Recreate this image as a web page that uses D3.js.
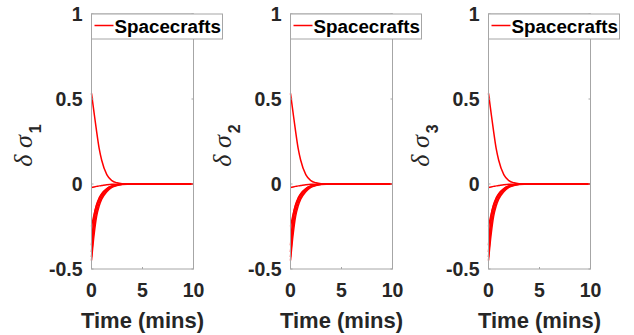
<!DOCTYPE html>
<html>
<head>
<meta charset="utf-8">
<script src="https://cdn.jsdelivr.net/npm/d3@7"></script>
<style>
  body { margin: 0; background: #fff; }
  svg { display: block; }
  text { font-family: Arial, "Liberation Sans", sans-serif; font-weight: bold; fill: #262626; }
</style>
</head>
<body>
<div id="chart"></div>
<script>
(function () {

  // Sample times (mins)
  const times = [0, 0.25, 0.5, 0.75, 1, 1.5, 2, 2.5, 3, 4, 5, 10]

  // Error trajectories, one row per spacecraft (same for every component)
  const sigma1 = [
    [0.533, 0.42, 0.31, 0.21, 0.14, 0.055, 0.02, 0.007, 0.002, 0, 0, 0],
    [-0.02, -0.017, -0.014, -0.011, -0.009, -0.005, -0.002, -0.001, 0, 0, 0, 0],
    [-0.45, -0.30, -0.19, -0.13, -0.09, -0.045, -0.02, -0.009, -0.003, 0, 0, 0],
    [-0.43, -0.26, -0.165, -0.112, -0.078, -0.038, -0.017, -0.007, -0.002, 0, 0, 0],
    [-0.40, -0.22, -0.14, -0.095, -0.066, -0.032, -0.014, -0.006, -0.002, 0, 0, 0],
    [-0.36, -0.19, -0.12, -0.082, -0.057, -0.027, -0.012, -0.005, -0.002, 0, 0, 0],
    [-0.25, -0.18, -0.125, -0.088, -0.06, -0.028, -0.012, -0.005, -0.002, 0, 0, 0]
  ]
  const sigma2 = sigma1
  const sigma3 = sigma1

  const panels = [
    { sub: "1", rows: sigma1 },
    { sub: "2", rows: sigma2 },
    { sub: "3", rows: sigma3 }
  ]
  const xTicks = [0, 5, 10]
  const yTicks = [-0.5, 0, 0.5, 1]
  const legendLabel = "Spacecrafts"

  const W = 634, H = 335
  const plotLefts = [91.5, 290.5, 488.5]
  const plotW = 102, plotTop = 14, plotH = 255

  const svg = d3.select("#chart").append("svg")
    .attr("width", W)
    .attr("height", H)

  const x = d3.scaleLinear().domain([0, 10]).range([0, plotW])
  const y = d3.scaleLinear().domain([-0.5, 1]).range([plotH, 0])

  const line = d3.line()
    .x((d, i) => x(times[i]))
    .y(d => y(d))
    .curve(d3.curveMonotoneX)

  panels.forEach((p, k) => {
    const g = svg.append("g")
      .attr("transform", "translate(" + plotLefts[k] + "," + plotTop + ")")

    // Data lines
    g.selectAll("path.traj")
      .data(p.rows)
      .join("path")
      .attr("class", "traj")
      .attr("fill", "none")
      .attr("stroke", "#ff0000")
      .attr("stroke-width", 1.5)
      .attr("d", line)

    // Box
    g.append("rect")
      .attr("width", plotW)
      .attr("height", plotH)
      .attr("fill", "none")
      .attr("stroke", "#a6a6a6")
      .attr("stroke-width", 1)

    // Inner ticks
    xTicks.forEach(t => {
      g.append("line").attr("x1", x(t)).attr("x2", x(t)).attr("y1", plotH).attr("y2", plotH - 2)
        .attr("stroke", "#a6a6a6")
      g.append("line").attr("x1", x(t)).attr("x2", x(t)).attr("y1", 0).attr("y2", 2)
        .attr("stroke", "#a6a6a6")
    })
    yTicks.forEach(t => {
      g.append("line").attr("x1", 0).attr("x2", 2).attr("y1", y(t)).attr("y2", y(t))
        .attr("stroke", "#a6a6a6")
      g.append("line").attr("x1", plotW).attr("x2", plotW - 2).attr("y1", y(t)).attr("y2", y(t))
        .attr("stroke", "#a6a6a6")
    })

    // Tick labels
    g.selectAll("text.xt")
      .data(xTicks)
      .join("text")
      .attr("class", "xt")
      .attr("x", d => x(d))
      .attr("y", plotH + 28)
      .attr("text-anchor", "middle")
      .style("font-size", "19.5px")
      .text(d => d)

    g.selectAll("text.yt")
      .data(yTicks)
      .join("text")
      .attr("class", "yt")
      .attr("x", -9)
      .attr("y", d => y(d))
      .attr("dy", "0.36em")
      .attr("text-anchor", "end")
      .style("font-size", "19.5px")
      .text(d => d)

    // Axis titles
    g.append("text")
      .attr("x", plotW / 2)
      .attr("y", plotH + 59)
      .attr("text-anchor", "middle")
      .style("font-size", "22px")
      .text("Time (mins)")

    const yl = g.append("text")
      .attr("transform", "translate(-60," + (plotH / 2 + 4) + ") rotate(-90)")
      .attr("text-anchor", "middle")
    yl.append("tspan")
      .style("font-family", "'Liberation Serif', 'DejaVu Serif', serif")
      .style("font-style", "italic")
      .style("font-weight", "normal")
      .style("font-size", "26px")
      .text("δ σ")
    yl.append("tspan")
      .attr("dy", 9)
      .attr("dx", 2)
      .style("font-size", "16px")
      .text(p.sub)

    // Legend
    const lg = g.append("g")
    lg.append("rect")
      .attr("x", 0).attr("y", 0)
      .attr("width", 131).attr("height", 25)
      .attr("fill", "#fff")
      .attr("stroke", "#a6a6a6")
    lg.append("line")
      .attr("x1", 3).attr("x2", 22)
      .attr("y1", 11.5).attr("y2", 11.5)
      .attr("stroke", "#ff0000")
      .attr("stroke-width", 1.5)
    lg.append("text")
      .attr("x", 23)
      .attr("y", 18.5)
      .style("font-size", "18.8px")
      .style("fill", "#000")
      .text(legendLabel)
  })
})();
</script>
</body>
</html>
